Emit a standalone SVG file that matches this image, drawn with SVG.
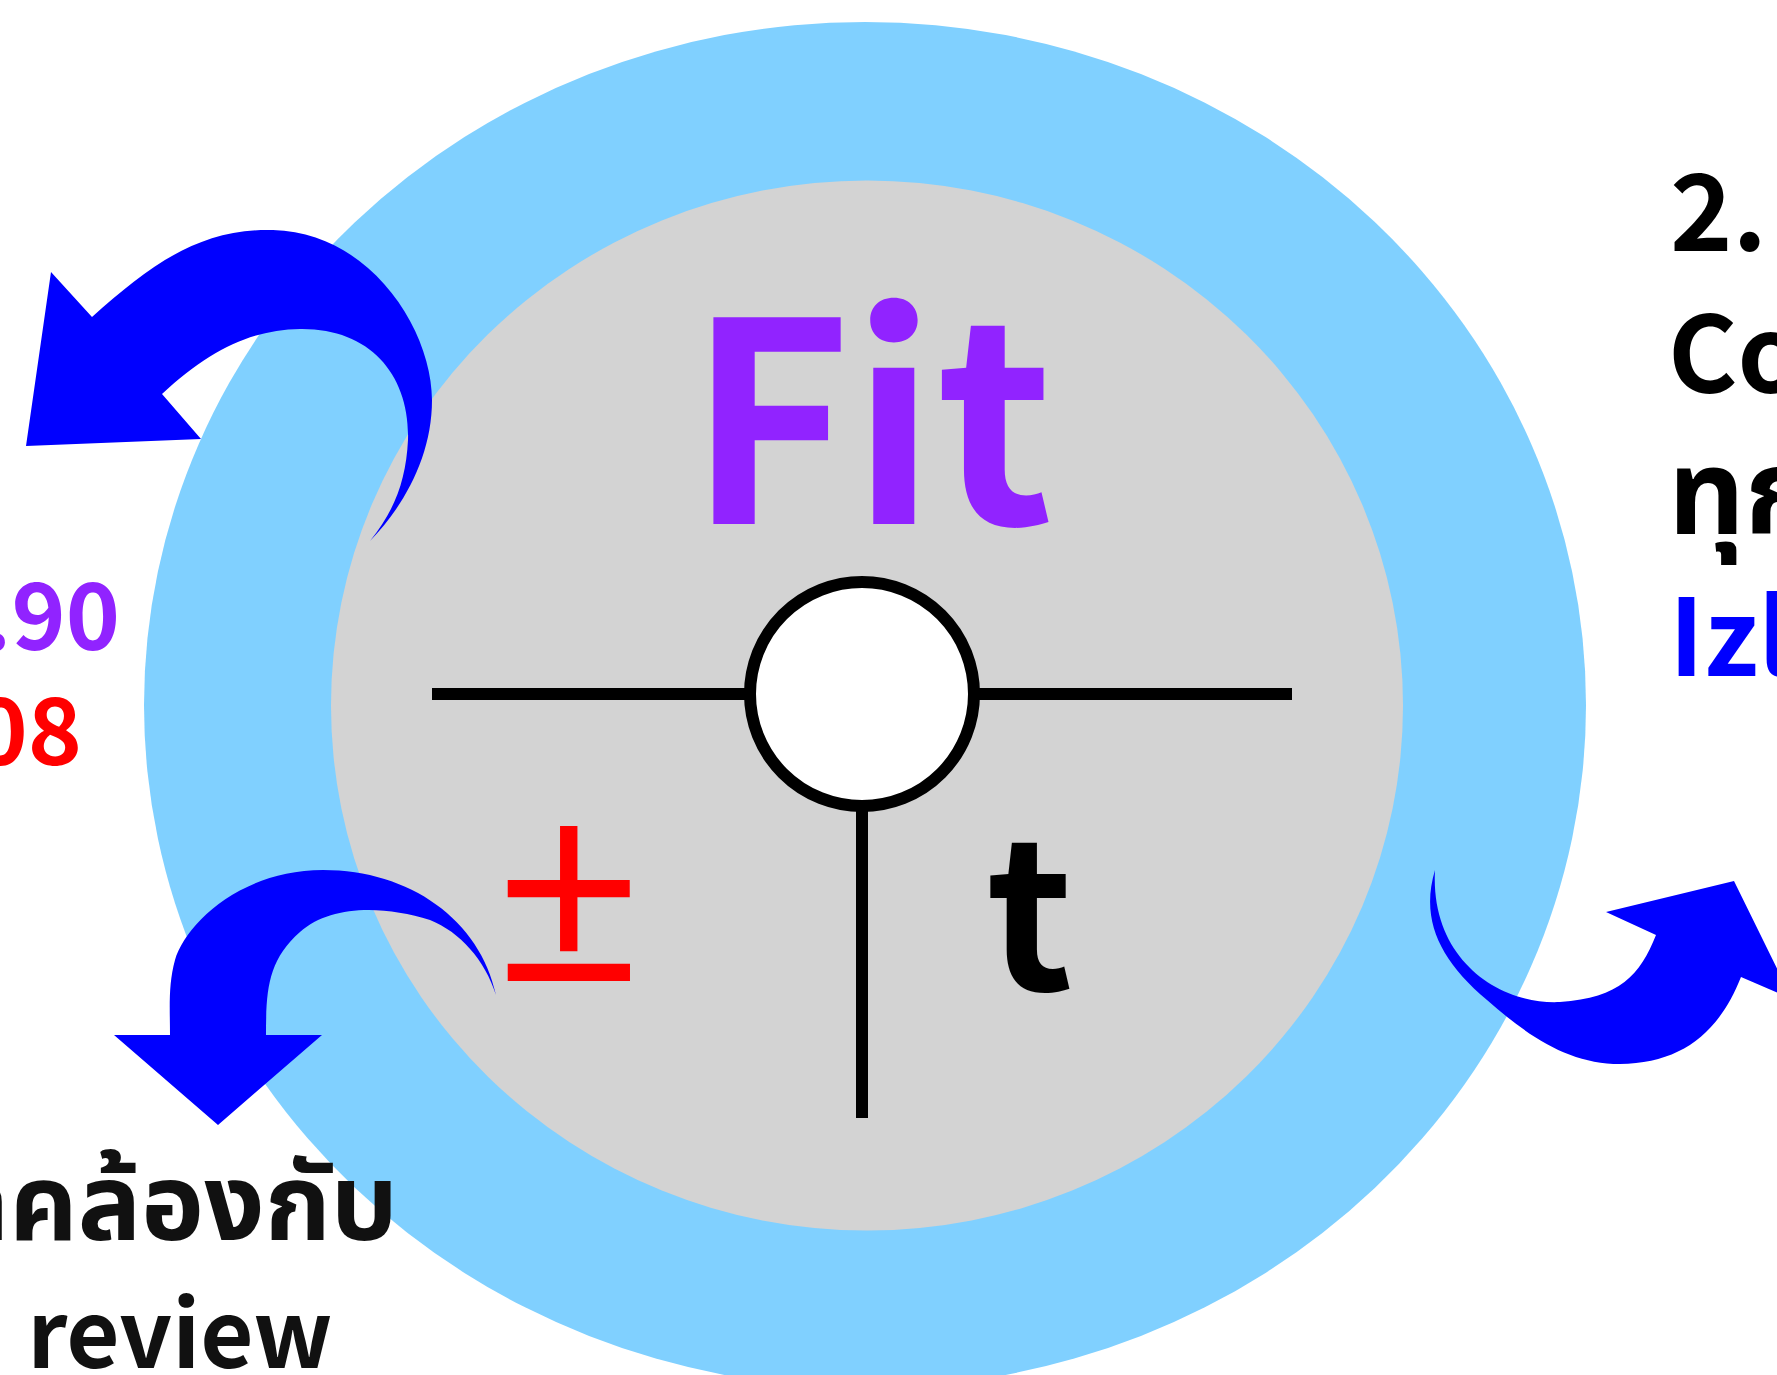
<svg xmlns="http://www.w3.org/2000/svg" width="1777" height="1375" viewBox="0 0 1777 1375">
<style>
.t{font-family:"Noto Sans CJK SC","Noto Sans Thai",sans-serif;font-weight:700}
.arrow{fill:#0000ff}
.ln{stroke:#000;stroke-width:12;fill:none}
</style>
<rect width="1777" height="1375" fill="#ffffff"/>
<g id="ring">
<ellipse cx="865" cy="705" rx="721" ry="683" fill="#80d0ff"/>
<ellipse cx="867" cy="705.5" rx="536" ry="525" fill="#d3d3d3"/>
</g>
<g id="connectors">
<line class="ln" x1="432" y1="694" x2="1292" y2="694"/>
<line class="ln" x1="862" y1="800" x2="862" y2="1118"/>
<path class="arrow" d="M370,541 C405,505 432,455 432,400 C432,330 370,232 273,230 C200,228 150,265 92,317 L51,272 L26,446 L201,439 L162,394 C210,350 250,330 300,329 C370,328 410,375 408,440 C406,480 395,510 370,541 Z"/>
<path class="arrow" d="M496,995 C480,920 410,870 323,870 C240,870 185,925 175,960 C168,985 170,1010 170,1035 L114,1035 L218,1125 L322,1035 L266,1035 C266,990 268,960 300,932 C330,905 383,905 430,920 C460,932 485,960 496,995 Z"/>
<path class="arrow" d="M1435,870 C1420,920 1440,960 1487,1000 C1530,1038 1570,1064 1620,1064 C1680,1063 1718,1035 1741,977 L1792,999 L1734,881 L1606,912 L1656,935 C1640,975 1620,998 1560,1002 C1500,1005 1430,960 1435,870 Z"/>
</g>
<g id="center-node">
<circle cx="862" cy="694" r="112" fill="#ffffff" stroke="#000" stroke-width="12"/>
</g>
<g id="fit-label"><text class="t" x="688" y="524" font-size="279" fill="#9123ff">Fit</text></g>
<g id="pm-label"><text x="569" y="981" font-size="260" fill="#ff0000" text-anchor="middle" style="font-family:'Open Sans',sans-serif">±</text></g>
<g id="t-label"><text class="t" x="986" y="990" font-size="207" fill="#000">t</text></g>
<g id="left-values">
<text class="t" x="120" y="650" font-size="92" fill="#9123ff" text-anchor="end">.90</text>
<text class="t" x="82" y="765" font-size="92" fill="#ff0000" text-anchor="end">08</text>
</g>
<g id="bottom-label">
<text class="t" x="398" y="1240" font-size="106" fill="#111" text-anchor="end">สอดคล้องกับ</text>
<text class="t" x="180" y="1368" font-size="92" fill="#111" text-anchor="middle">review</text>
</g>
<g id="right-label">
<text class="t" x="1670" y="251" font-size="106" fill="#000">2.</text>
<text class="t" x="1668" y="393" font-size="106" fill="#000">Co</text>
<text class="t" x="1668" y="534" font-size="119" fill="#000">ทุก</text>
<text class="t" x="1669" y="676" font-size="106" fill="#0000ff">Izl</text>
</g>
</svg>
